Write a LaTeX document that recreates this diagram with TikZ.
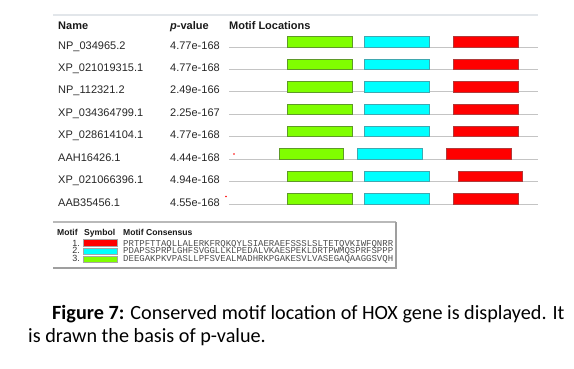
\documentclass[tikz,border=0pt]{standalone}
\usepackage{fontspec}
\setmainfont{Liberation Sans}
\newfontfamily\capfont{Carlito}
\newfontfamily\seqfont{Liberation Mono}
\definecolor{gfill}{HTML}{80FF00}
\definecolor{gdraw}{HTML}{5E9A28}
\definecolor{cfill}{HTML}{00FFFF}
\definecolor{cdraw}{HTML}{40A8B0}
\definecolor{rfill}{HTML}{FF0000}
\definecolor{rdraw}{HTML}{B03A3A}
\definecolor{rowline}{HTML}{C4C4C4}
\definecolor{topline}{HTML}{E2E6EA}
\tikzset{
  txt/.style={anchor=base west, inner sep=0pt, font=\fontsize{11}{13}\selectfont, text=black!85},
  hdr/.style={anchor=base west, inner sep=0pt, font=\fontsize{11}{13}\selectfont\bfseries, text=black!90},
  lhdr/.style={anchor=base west, inner sep=0pt, font=\fontsize{8.6}{10}\selectfont\bfseries, text=black!90},
  lnum/.style={anchor=base east, inner sep=0pt, font=\fontsize{9}{9}\selectfont, text=black!80},
  seq/.style={anchor=base west, inner sep=0pt, font=\fontsize{9}{9}\seqfont, text=black!70},
  gbox/.style={fill=gfill, draw=gdraw, line width=0.7pt},
  cbox/.style={fill=cfill, draw=cdraw, line width=0.7pt},
  rbox/.style={fill=rfill, draw=rdraw, line width=0.7pt},
  rline/.style={draw=rowline, line width=0.9pt},
  captxt/.style={anchor=base west, inner sep=0pt, font=\capfont\fontsize{20.2}{24}\selectfont, text=black}
}
\begin{document}
\begin{tikzpicture}[x=1pt,y=-1pt]
\useasboundingbox (0,0) rectangle (574,368);
% top rule
\draw[topline, line width=1.6pt] (53,15) -- (538,15);
% headers
\node[hdr] (hname) at (58,29) {Name};
\node[hdr] (hpval) at (170,29) {\textit{p}-value};
\node[hdr] (hloc) at (229,29) {Motif Locations};
\foreach \i/\nm/\pv/\ga/\gb/\ca/\cb/\ra/\rb in {
  0/NP\_034965.2/4.77e-168/287/352/364/429/453/518,
  1/XP\_021019315.1/4.77e-168/287/352/364/429/453/518,
  2/NP\_112321.2/2.49e-166/287/352/364/429/453/518,
  3/XP\_034364799.1/2.25e-167/287/352/364/429/453/518,
  4/XP\_028614104.1/4.77e-168/287/352/364/429/453/518,
  5/AAH16426.1/4.44e-168/279/343/357/422/446/511,
  6/XP\_021066396.1/4.94e-168/287/352/364/429/458/522,
  7/AAB35456.1/4.55e-168/287/352/364/429/453/518}{
  \pgfmathsetmacro{\ly}{47+22.45*\i}
  \node[txt] (name\i) at (58,\ly+2) {\nm};
  \node[txt] (pv\i) at (170,\ly+2) {\pv};
  \draw[rline] (229,\ly) -- (538,\ly);
  \path[gbox] (\ga,\ly) rectangle (\gb,\ly-10.5);
  \path[cbox] (\ca,\ly) rectangle (\cb,\ly-10.5);
  \path[rbox] (\ra,\ly) rectangle (\rb,\ly-10.5);
}
% small red marks
\fill[red] (234,154) circle (0.9);
\fill[red] (226,196.5) circle (0.9);
% legend frame
\draw[gray!55, line width=1.2pt] (53,222) -- (396,222);
\draw[gray!75, line width=1.4pt] (396,222) -- (396,268) -- (53,268);
\node[lhdr] (lm) at (57,235) {Motif};
\node[lhdr] (ls) at (84,235) {Symbol};
\node[lhdr] (lc) at (123,235) {Motif Consensus};
\path[rbox, line width=0.5pt, draw=gray!70] (83,239.5) rectangle (117,246.5);
\path[cbox, line width=0.5pt, draw=gray!70] (83,247.8) rectangle (117,254.3);
\path[gbox, line width=0.5pt, draw=gray!70] (83,255.8) rectangle (117,262.3);
\node[lnum] (n1) at (80,246) {1.};
\node[lnum] (n2) at (80,253.5) {2.};
\node[lnum] (n3) at (80,261) {3.};
\node[seq] (s1) at (123,246) {PRTPFTTAQLLALERKFRQKQYLSIAERAEFSSSLSLTETQVKIWFQNRR};
\node[seq] (s2) at (123,253.5) {PDAPSSPRPLGHFSVGGLLKLPEDALVKAESPEKLDRTPWMQSPRFSPPP};
\node[seq] (s3) at (123,261) {DEEGAKPKVPASLLPFSVEALMADHRKPGAKESVLVASEGAQAAGGSVQH};
% caption
\node[captxt] (c1) at (52,319) {\textbf{Figure 7:} Conserved motif location of HOX gene is displayed. It};
\node[captxt] (c2) at (28,342) {is drawn the basis of p-value.};
\end{tikzpicture}
\end{document}
